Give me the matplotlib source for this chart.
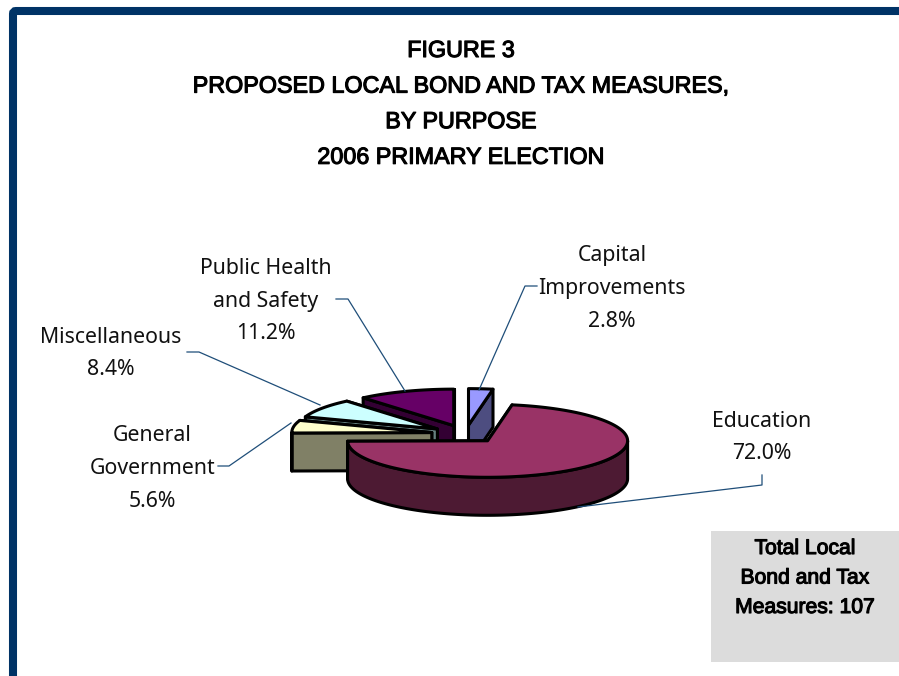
import numpy as np
import matplotlib
matplotlib.use("Agg")
import matplotlib.pyplot as plt
import matplotlib.patheffects as pe
from matplotlib.patches import Polygon, Rectangle, PathPatch
from matplotlib.path import Path

categories = ["Capital\nImprovements", "Education", "General\nGovernment", "Miscellaneous", "Public Health\nand Safety"]
shares = [2.8, 72.0, 5.6, 8.4, 11.2]
top_colors = ["#9999FF", "#993366", "#FFFFCC", "#CCFFFF", "#660066"]
side_colors = ["#4D4D80", "#4D1A33", "#808066", "#668080", "#330033"]
title_lines = ["FIGURE 3", "PROPOSED LOCAL BOND AND TAX MEASURES,", "BY PURPOSE", "2006 PRIMARY ELECTION"]
note_lines = ["Total Local", "Bond and Tax", "Measures: 107"]

W, H = 899, 676
CX, CY, RX, RY, DEPTH, EXPLODE = 465.5, 434.0, 140.0, 36.5, 38.0, 0.244
NAVY = "#003366"
LEADER = "#1F4E79"
LABEL_FONT = ["Noto Sans"]
HEAVY = [pe.withStroke(linewidth=0.8, foreground="black")]

fig = plt.figure(figsize=(W / 100, H / 100), dpi=100, facecolor="white")
ax = fig.add_axes([0, 0, 1, 1])
ax.set_xlim(0, W)
ax.set_ylim(H, 0)
ax.axis("off")

# Page frame: top and left rules joined by a small rounded corner
frame = Path([(13, H + 5), (13, 14), (13, 11), (16, 11), (W + 5, 11)],
             [Path.MOVETO, Path.LINETO, Path.CURVE3, Path.CURVE3, Path.LINETO])
ax.add_patch(PathPatch(frame, fc="none", ec=NAVY, lw=5.8, capstyle="butt"))

def point(apex, deg):
    t = np.radians(deg)
    return apex[0] + RX * np.sin(t), apex[1] - RY * np.cos(t)

def shifted(pts):
    return [(x, y + DEPTH) for x, y in pts]

def draw_slice(start, end, top, side):
    mid = np.radians((start + end) / 2)
    apex = (CX + EXPLODE * RX * np.sin(mid), CY - EXPLODE * RY * np.cos(mid))
    style = dict(ec="black", lw=2.2, joinstyle="round")
    # Cut faces, the one further from the viewer first
    for deg in sorted((start, end), key=lambda d: np.cos(np.radians(d)), reverse=True):
        face = [apex, point(apex, deg)]
        ax.add_patch(Polygon(face + shifted(face)[::-1], fc=side, **style))
    # Outer wall, only where it faces the viewer
    lo, hi = max(start, 90), min(end, 270)
    if hi > lo:
        arc = [point(apex, d) for d in np.linspace(lo, hi, 120)]
        ax.add_patch(Polygon(arc + shifted(arc)[::-1], fc=side, **style))
    rim = [point(apex, d) for d in np.linspace(start, end, 160)]
    ax.add_patch(Polygon([apex] + rim, fc=top, **style))

edges = np.concatenate([[0], np.cumsum(shares)]) * 3.6
spans = list(zip(edges[:-1], edges[1:]))
# Painter's order: the rear slices first, the large front slice last
for i in [0, 4, 3, 2, 1]:
    draw_slice(spans[i][0], spans[i][1], top_colors[i], side_colors[i])

# Leader lines
leaders = [
    [(537, 286), (525, 286), (479, 390)],
    [(762, 475), (762, 485), (578, 507)],
    [(218, 466), (229, 466), (291, 423)],
    [(187, 352), (199, 352), (320, 405)],
    [(336, 299), (348, 299), (405, 391)],
]
for pts in leaders:
    xs, ys = zip(*pts)
    ax.plot(xs, ys, color=LEADER, lw=0.9, zorder=1)

# Slice labels
label_pos = [(612, 288.5), (762, 437.5), (152.5, 468.5), (111, 353.5), (266, 301)]
for name, share, (x, y) in zip(categories, shares, label_pos):
    ax.text(x, y, f"{name}\n{share:.1f}%", ha="center", va="center", fontsize=15.3,
            family=LABEL_FONT, color="#111111", linespacing=1.72)

# Title block
for k, line in enumerate(title_lines):
    ax.text(461, 50.5 + k * 35.6, line, ha="center", va="center", fontsize=16.8,
            family=["Liberation Sans"], color="black", path_effects=HEAVY)

# Total box
ax.add_patch(Rectangle((711, 531), 188, 131, fc="#DCDCDC", ec="none"))
for k, line in enumerate(note_lines):
    ax.text(805, 548.5 + k * 29.5, line, ha="center", va="center", fontsize=15.2,
            family=["Liberation Sans"], color="black", path_effects=HEAVY)

fig.savefig("out.png", dpi=100)
